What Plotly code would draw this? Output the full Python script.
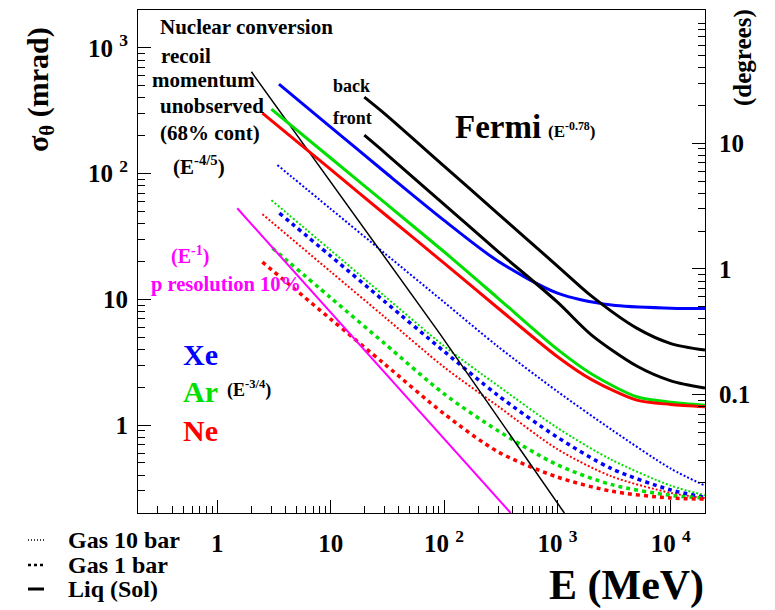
import numpy as np
import plotly.graph_objects as go

# ---------------- data ----------------
E_nuc = [2.0, 91, 1150]
S_nuc = [645, 5.39, 0.2]

E_pres = [1.5, 112, 387]
S_pres = [53, 0.693, 0.2]

E_fermi_back = [19.8, 30, 100, 300, 1000, 2000, 5000, 10000, 20000]
S_fermi_back = [406, 299, 114.8, 47.9, 18.4, 10.6, 5.9, 4.45, 3.95]
E_fermi_front = [19.8, 30, 100, 300, 1000, 2000, 5000, 10000, 20000]
S_fermi_front = [202, 147, 56.9, 24.0, 9.5, 5.2, 2.95, 2.25, 1.97]

E_xe_liq = [3.5, 10, 30, 100, 300, 1000, 3000, 10000, 20000]
S_xe_liq = [515, 234.6, 103, 42.5, 20.1, 11.2, 9.0, 8.5, 8.44]
E_ar_liq = [3.0, 10, 30, 100, 300, 1000, 2000, 5000, 10000, 20000]
S_ar_liq = [326, 133, 58.7, 23.9, 10.2, 4.0, 2.55, 1.68, 1.52, 1.44]
E_ne_liq = [2.5, 10, 30, 100, 300, 1000, 2000, 5000, 10000, 20000]
S_ne_liq = [303, 108, 47.5, 19.4, 8.5, 3.5, 2.3, 1.58, 1.46, 1.40]

E_xe_10 = [3.39, 10, 30, 100, 300, 1000, 3000, 10000, 20000]
S_xe_10 = [117, 52.4, 23.2, 9.5, 4.2, 1.85, 0.92, 0.45, 0.33]
E_ar_10 = [3.0, 10, 30, 100, 300, 1000, 3000, 10000, 20000]
S_ar_10 = [61.5, 24.6, 10.6, 4.25, 2.05, 0.95, 0.53, 0.33, 0.277]
E_ne_10 = [2.5, 10, 30, 100, 300, 1000, 3000, 10000, 20000]
S_ne_10 = [47.6, 16.6, 7.22, 2.89, 1.41, 0.643, 0.391, 0.289, 0.263]

E_xe_1 = [3.53, 10, 30, 100, 300, 1000, 3000, 10000, 20000]
S_xe_1 = [48.5, 22.1, 9.6, 3.86, 1.72, 0.80, 0.45, 0.305, 0.267]
E_ar_1 = [3.06, 10, 30, 100, 300, 1000, 3000, 10000, 20000]
S_ar_1 = [25.6, 10.3, 4.44, 1.77, 0.90, 0.483, 0.336, 0.276, 0.263]
E_ne_1 = [2.5, 10, 30, 100, 300, 1000, 3000, 10000, 20000]
S_ne_1 = [19.8, 6.97, 3.05, 1.23, 0.612, 0.386, 0.298, 0.263, 0.258]

x_ticks = [1, 10, 100, 1000, 10000]
x_ticktext = ["1", "10", "10 <sup>2</sup>", "10 <sup>3</sup>", "10 <sup>4</sup>"]
y_ticks = [1, 10, 100, 1000]
y_ticktext = ["1", "10", "10 <sup>2</sup>", "10 <sup>3</sup>"]
deg_ticks = [0.1, 1, 10]
deg_ticktext = ["0.1", "1", "10"]

X_RANGE = (0.2, 2e4)
Y_RANGE = (0.2, 2000)
MRAD_PER_DEG = 17.4533

# ---------------- styling ----------------
BLUE, GREEN, RED, MAG = "#0000ff", "#00e000", "#ff0000", "#ff00ff"
FONT = "Liberation Serif, Times New Roman, Times, serif"

OFF = 8                      # page body margin
WIN_W, WIN_H = 775, 610
W, H = WIN_W - OFF, WIN_H - OFF
L, R, T, B = 138, 705, 10, 513   # plot frame in window pixels


def pxx(x):
    return (x - L) / (R - L)


def pxy(y):
    return (B - y) / (B - T)


fig = go.Figure()


def add(xs, ys, color, width, dash="solid", shape="spline"):
    fig.add_trace(go.Scatter(x=xs, y=ys, mode="lines",
                             line=dict(color=color, width=width, dash=dash, shape=shape, smoothing=0.8),
                             showlegend=False, hoverinfo="skip"))


DOT10 = "2px,2px"
DASH1 = "4px,4px"

add(E_xe_10, S_xe_10, BLUE, 2, DOT10)
add(E_ar_10, S_ar_10, GREEN, 2, DOT10)
add(E_ne_10, S_ne_10, RED, 2, DOT10)
add(E_xe_1, S_xe_1, BLUE, 3.5, DASH1)
add(E_ar_1, S_ar_1, GREEN, 3.5, DASH1)
add(E_ne_1, S_ne_1, RED, 3.5, DASH1)
add(E_pres, S_pres, MAG, 2, "solid", "linear")
add(E_nuc, S_nuc, "black", 1.5, "solid", "linear")
add(E_xe_liq, S_xe_liq, BLUE, 3)
add(E_ar_liq, S_ar_liq, GREEN, 3)
add(E_ne_liq, S_ne_liq, RED, 3)
add(E_fermi_back, S_fermi_back, "black", 3)
add(E_fermi_front, S_fermi_front, "black", 3)


def minor_vals(lo, hi):
    out = []
    for n in range(-3, 6):
        for k in range(2, 10):
            v = k * 10 ** n
            if lo < v < hi:
                out.append(v)
    return out


tickfont = dict(family=FONT, size=25, color="black", weight="bold")

common = dict(type="log", showgrid=False, zeroline=False, showline=True,
              linecolor="black", linewidth=1, ticks="inside", ticklen=13,
              tickwidth=1, tickcolor="black", tickfont=tickfont)

fig.update_layout(
    width=W, height=H, autosize=False,
    margin=dict(l=L - OFF, r=WIN_W - R, t=T - OFF, b=WIN_H - B, pad=0),
    plot_bgcolor="white", paper_bgcolor="white",
    xaxis=dict(common, range=[np.log10(X_RANGE[0]), np.log10(X_RANGE[1])],
               tickmode="array", tickvals=x_ticks, ticktext=x_ticktext, mirror=True,
               ticklabelstandoff=8,
               minor=dict(ticks="inside", ticklen=7, tickcolor="black", tickwidth=1,
                          tickmode="array", tickvals=minor_vals(*X_RANGE), showgrid=False)),
    yaxis=dict(common, range=[np.log10(Y_RANGE[0]), np.log10(Y_RANGE[1])],
               tickmode="array", tickvals=y_ticks, ticktext=y_ticktext, mirror=True,
               ticklabelstandoff=4,
               minor=dict(ticks="inside", ticklen=7, tickcolor="black", tickwidth=1,
                          tickmode="array", tickvals=minor_vals(*Y_RANGE), showgrid=False)),
    yaxis2=dict(common, overlaying="y", side="right", anchor="x",
                range=[np.log10(Y_RANGE[0] / MRAD_PER_DEG), np.log10(Y_RANGE[1] / MRAD_PER_DEG)],
                tickmode="array", tickvals=deg_ticks, ticktext=deg_ticktext,
                ticklabelstandoff=8,
                minor=dict(ticks="inside", ticklen=7, tickcolor="black", tickwidth=1,
                           tickmode="array",
                           tickvals=minor_vals(Y_RANGE[0] / MRAD_PER_DEG, Y_RANGE[1] / MRAD_PER_DEG),
                           showgrid=False)),
)

fig.add_trace(go.Scatter(x=[1], y=[1], yaxis="y2", mode="markers",
                         marker=dict(opacity=0), showlegend=False, hoverinfo="skip"))


def txt(s, x, y, size, color="black", xanchor="left", angle=0):
    fig.add_annotation(text=s, x=pxx(x), y=pxy(y), xref="paper", yref="paper",
                       xanchor=xanchor, yanchor="middle", showarrow=False, textangle=angle,
                       font=dict(family=FONT, size=size, color=color, weight="bold"))


txt("Nuclear conversion", 158, 27, 21)
txt("recoil", 159, 56, 21)
txt("momentum", 150, 80, 21)
txt("unobserved", 158, 106, 21)
txt("(68% cont)", 158, 133, 21)
txt("(E<sup>-4/5</sup>)", 171, 166, 21)
txt("back", 331, 86, 18)
txt("front", 331, 118, 18)
txt("Fermi", 453, 127, 33)
txt("(E<sup>-0.78</sup>)", 546, 130, 17)
txt("(E<sup>-1</sup>)", 169, 255, 20, MAG)
txt("p resolution 10%", 149, 284, 20.5, MAG)
txt("Xe", 181, 354, 30, BLUE)
txt("Ar", 181, 391, 30, GREEN)
txt("(E<sup>-3/4</sup>)", 225, 389, 18)
txt("Ne", 181, 430, 30, RED)
txt("Gas 10 bar", 66, 540, 24)
txt("Gas 1 bar", 66, 565, 24)
txt("Liq (Sol)", 66, 589, 24)
txt("E (MeV)", 706, 585, 42, xanchor="right")
txt("σ<sub>θ</sub> (mrad)", 40, 90, 30, xanchor="center", angle=-90)
txt("(degrees)", 743, 58, 25, xanchor="center", angle=-90)

# legend line samples
for yy, dash, wd in [(540, "1px,2px", 1.5), (565, "3px,3px", 2.5), (589, "solid", 3)]:
    fig.add_shape(type="line", xref="paper", yref="paper",
                  x0=pxx(28), x1=pxx(44), y0=pxy(yy), y1=pxy(yy),
                  line=dict(color="black", width=wd, dash=dash))

fig.write_html("out.html")
